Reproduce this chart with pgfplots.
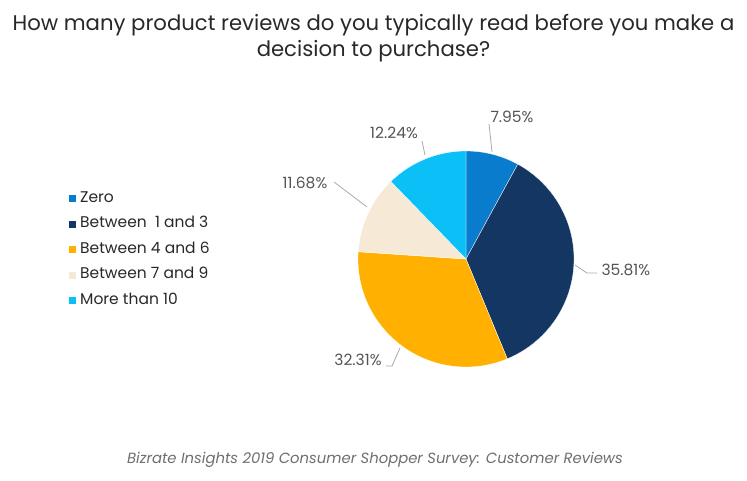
\documentclass[border=0pt]{standalone}
\usepackage{fontspec}
\setmainfont{Poppins}
\usepackage{pgfplots}
\usepackage{pgfplotstable}
\pgfplotsset{compat=1.18}
\definecolor{cZero}{RGB}{10,124,206}
\definecolor{cOne}{RGB}{20,54,98}
\definecolor{cFour}{RGB}{255,176,0}
\definecolor{cSeven}{RGB}{246,234,214}
\definecolor{cTen}{RGB}{10,192,246}
\definecolor{cText}{RGB}{40,40,40}
\definecolor{cLab}{RGB}{85,85,85}
\definecolor{cLine}{RGB}{170,170,170}
\definecolor{cFoot}{RGB}{110,110,110}
% shares (%), clockwise from 12 o'clock
\pgfmathsetmacro\vA{7.95}
\pgfmathsetmacro\vB{35.81}
\pgfmathsetmacro\vC{32.31}
\pgfmathsetmacro\vD{11.68}
\pgfmathsetmacro\vE{12.24}
\pgfmathsetmacro\aO{90}
\pgfmathsetmacro\aA{\aO-3.6*\vA}
\pgfmathsetmacro\aB{\aA-3.6*\vB}
\pgfmathsetmacro\aC{\aB-3.6*\vC}
\pgfmathsetmacro\aD{\aC-3.6*\vD}
\pgfmathsetmacro\aE{\aO-360}
\begin{document}
\begin{tikzpicture}
\useasboundingbox (0,0) rectangle (747pt,481pt);
\begin{axis}[
  x=1pt, y=1pt, xmin=0, xmax=747, ymin=0, ymax=481,
  hide axis, clip=false, anchor=south west, at={(0,0)},
  legend image code/.code={\fill[#1, draw=none] (0pt,-3.5pt) rectangle (7pt,3.5pt);},
  legend cell align=left,
  legend style={at={(axis cs:66,292)}, anchor=north west, draw=none, fill=none,
    font=\fontsize{15.5}{18}\selectfont, text=cText, row sep=11.1pt,
    nodes={inner sep=0pt, text height=11pt, text depth=3.5pt},
    column sep=4pt},
]
\addplot[fill=cZero, draw=white, line width=0.3pt, domain=\aA:\aO, samples=40, forget plot]
  ({466+108*cos(x)},{222+108*sin(x)}) -- (axis cs:466,222) -- cycle;
\addplot[fill=cOne, draw=white, line width=0.3pt, domain=\aB:\aA, samples=100, forget plot]
  ({466+108*cos(x)},{222+108*sin(x)}) -- (axis cs:466,222) -- cycle;
\addplot[fill=cFour, draw=white, line width=0.3pt, domain=\aC:\aB, samples=100, forget plot]
  ({466+108*cos(x)},{222+108*sin(x)}) -- (axis cs:466,222) -- cycle;
\addplot[fill=cSeven, draw=white, line width=0.3pt, domain=\aD:\aC, samples=40, forget plot]
  ({466+108*cos(x)},{222+108*sin(x)}) -- (axis cs:466,222) -- cycle;
\addplot[fill=cTen, draw=white, line width=0.3pt, domain=\aE:\aD, samples=40, forget plot]
  ({466+108*cos(x)},{222+108*sin(x)}) -- (axis cs:466,222) -- cycle;
% leader lines
\addplot[cLine, line width=0.8pt, forget plot] coordinates {(489,357) (492,329)};
\addplot[cLine, line width=0.8pt, forget plot] coordinates {(422,340) (425,326)};
\addplot[cLine, line width=0.8pt, forget plot] coordinates {(334,299) (367,274)};
\addplot[cLine, line width=0.8pt, forget plot] coordinates {(575,216) (587,208) (597,208)};
\addplot[cLine, line width=0.8pt, forget plot] coordinates {(386,115) (392,115) (400,133)};
% labels
\node[text=cLab, font=\fontsize{15.5}{18}\selectfont] at (axis cs:512,364) {7.95\%};
\node[text=cLab, font=\fontsize{15.5}{18}\selectfont] at (axis cs:394,348) {12.24\%};
\node[text=cLab, font=\fontsize{15.5}{18}\selectfont] at (axis cs:305,298) {11.68\%};
\node[text=cLab, font=\fontsize{15.5}{18}\selectfont, anchor=west] at (axis cs:598,211) {35.81\%};
\node[text=cLab, font=\fontsize{15.5}{18}\selectfont] at (axis cs:358,121) {32.31\%};
% legend
\addlegendimage{fill=cZero}\addlegendentry{Zero}
\addlegendimage{fill=cOne}\addlegendentry{Between\ \ 1 and 3}
\addlegendimage{fill=cFour}\addlegendentry{Between 4 and 6}
\addlegendimage{fill=cSeven}\addlegendentry{Between 7 and 9}
\addlegendimage{fill=cTen}\addlegendentry{More than 10}
% title and source
\node[text=cText, font=\fontsize{21.2}{25.5}\selectfont, align=center] at (axis cs:373.5,443)
  {How many product reviews do you typically read before you make a\\decision to purchase?};
\node[text=cFoot, font=\fontsize{14.8}{17}\selectfont\itshape] at (axis cs:375,21)
  {Bizrate Insights 2019 Consumer Shopper Survey: Customer Reviews};
\end{axis}
\end{tikzpicture}
\end{document}
